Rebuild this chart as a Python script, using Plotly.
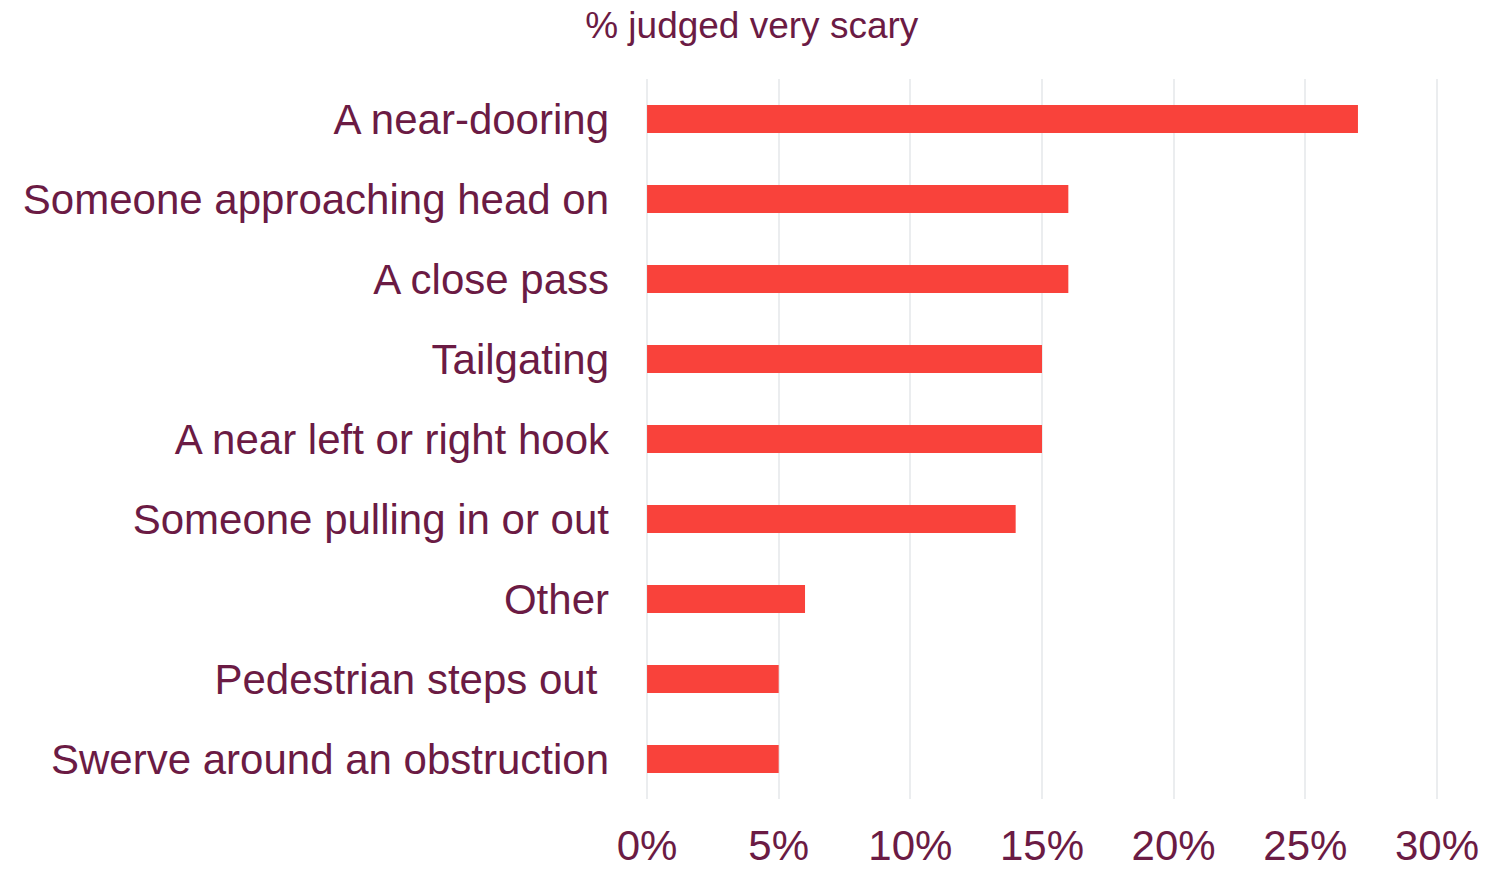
import plotly.graph_objects as go

categories = [
    "A near-dooring",
    "Someone approaching head on",
    "A close pass",
    "Tailgating",
    "A near left or right hook",
    "Someone pulling in or out",
    "Other",
    "Pedestrian steps out\u00a0",
    "Swerve around an obstruction",
]
values = [27, 16, 16, 15, 15, 14, 6, 5, 5]
x_ticks = [0, 5, 10, 15, 20, 25, 30]
x_tick_labels = [f"{t}%" for t in x_ticks]

text_color = "#6B1B44"
bar_color = "#F9423B"

fig = go.Figure(
    go.Bar(
        x=values,
        y=categories,
        orientation="h",
        marker=dict(color=bar_color, line=dict(width=0)),
        hoverinfo="x+y",
    )
)

fig.update_layout(
    width=1499,
    height=870,
    paper_bgcolor="white",
    plot_bgcolor="white",
    margin=dict(l=646, r=61, t=79, b=71, autoexpand=False),
    bargap=0.65,
    showlegend=False,
    font=dict(family="Liberation Sans, Arial, sans-serif", color=text_color),
    title=dict(
        text="% judged very scary",
        x=0.5015,
        xref="container",
        xanchor="center",
        y=1 - 25 / 870,
        yref="container",
        yanchor="middle",
        font=dict(size=37, color=text_color),
    ),
)

fig.update_xaxes(
    range=[-0.04, 30.04],
    tickvals=x_ticks,
    ticktext=x_tick_labels,
    showgrid=True,
    gridcolor="#EBEDEF",
    gridwidth=2,
    zeroline=False,
    showline=False,
    ticks="",
    ticklabelstandoff=18,
    tickfont=dict(size=42, color=text_color),
    fixedrange=True,
)
fig.update_yaxes(
    categoryorder="array",
    categoryarray=categories,
    autorange="reversed",
    showgrid=False,
    zeroline=False,
    showline=False,
    ticks="",
    ticklabelstandoff=36,
    tickfont=dict(size=42, color=text_color),
    fixedrange=True,
)

fig.write_html("out.html")
